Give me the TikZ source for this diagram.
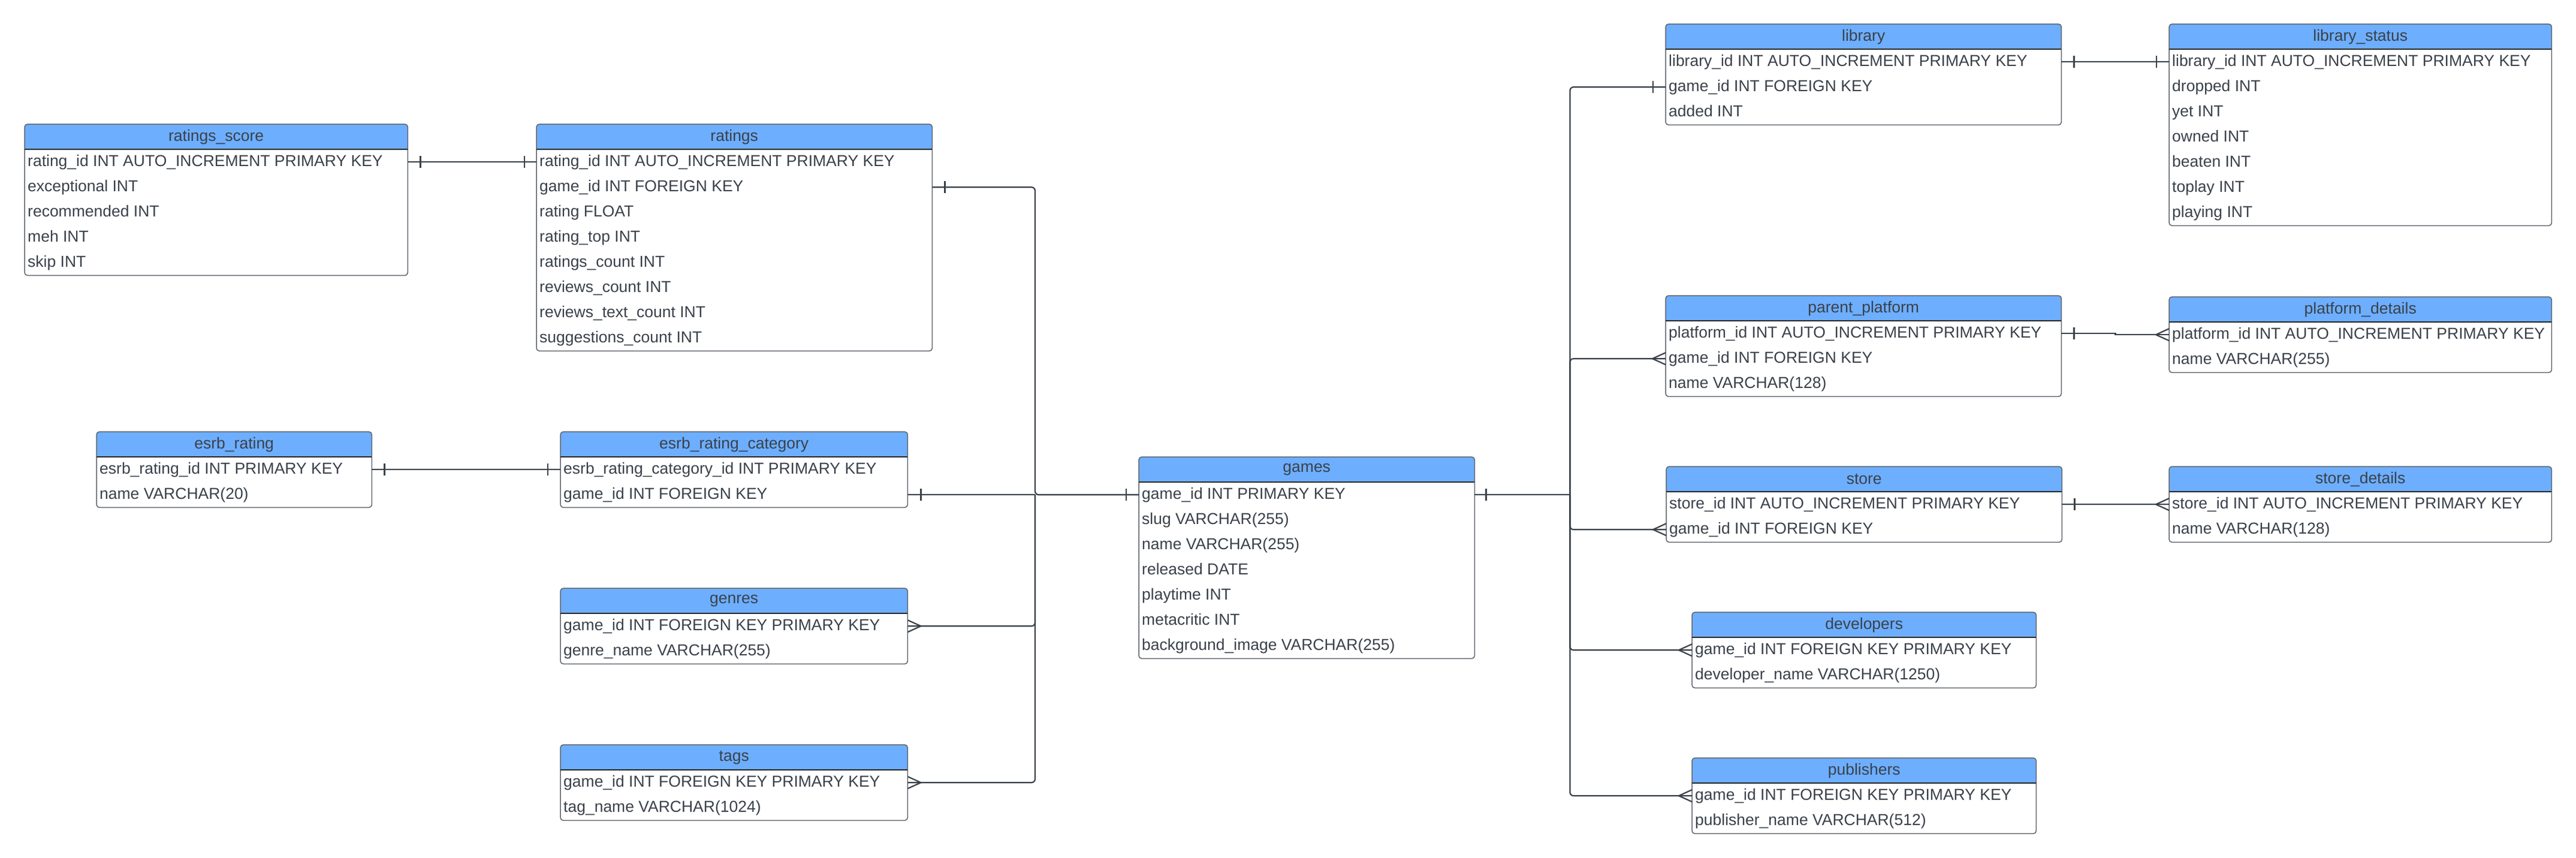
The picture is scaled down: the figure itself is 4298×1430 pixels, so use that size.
\documentclass[tikz,border=0pt]{standalone}
\usepackage{fontspec}
\setmainfont{Liberation Sans}
\usepackage{xcolor}
\usepackage{tikz}

\definecolor{headblue}{RGB}{109,174,255}
\definecolor{inkgray}{RGB}{58,65,74}
\definecolor{edgegray}{RGB}{95,100,108}

\pgfdeclarelayer{background}
\pgfsetlayers{background,main}

\newcommand{\dbtable}[6]{%
  \node[enthead, minimum width=#5pt] (#1) at (#3,#4) {#2};
  \foreach \field [count=\i] in {#6} {
    \node[entrow, minimum width=#5pt] (#1-\i) at (#3,{#4+42*\i}) {\makebox[\dimexpr#5pt-10pt\relax][l]{\field}};
    \xdef\nrows{\i}
  }
  \begin{pgfonlayer}{background}
    \fill[headblue, rounded corners=5pt] (#1.north west) rectangle (#1.south east);
    \fill[headblue] ([yshift=12pt]#1.south west) rectangle (#1.south east);
  \end{pgfonlayer}
  \draw[entedge] (#1.north west) rectangle (#1-\nrows.south east);
  \draw[headrule] (#1.south west) -- (#1.south east);
}
\newcommand{\onemark}[2]{\draw[conn] ([xshift=#2pt,yshift=-10pt]#1) -- ([xshift=#2pt,yshift=10pt]#1);}
\newcommand{\manymark}[2]{\draw[conn] ([yshift=-10pt]#1) -- ([xshift=#2pt]#1) -- ([yshift=10pt]#1);}

\begin{document}
\begin{tikzpicture}[x=1pt,y=-1pt,
  enthead/.style={anchor=north west,minimum height=42pt,inner sep=0pt,text=inkgray,font=\fontsize{26.5}{31}\selectfont},
  entrow/.style={anchor=north west,minimum height=42pt,inner xsep=5pt,inner ysep=0pt,text height=19pt,text depth=5pt,text=inkgray,font=\fontsize{26.5}{31}\selectfont},
  entedge/.style={draw=edgegray,line width=1.5pt,rounded corners=5pt},
  headrule/.style={draw=black!85,line width=2pt},
  conn/.style={draw=inkgray,line width=2.2pt}]
\begin{pgfonlayer}{background}
\fill[white] (0,0) rectangle (4298,1430);
\end{pgfonlayer}
\useasboundingbox (0,0) rectangle (4298,1430);

\dbtable{ratingsscore}{ratings\_score}{41}{207}{639}{rating\_id INT AUTO\_INCREMENT PRIMARY KEY, exceptional INT, recommended INT, meh INT, skip INT}
\dbtable{ratings}{ratings}{895}{207}{660}{rating\_id INT AUTO\_INCREMENT PRIMARY KEY, game\_id INT FOREIGN KEY, rating FLOAT, rating\_top INT, ratings\_count INT, reviews\_count INT, reviews\_text\_count INT, suggestions\_count INT}
\dbtable{esrb}{esrb\_rating}{161}{720}{459}{esrb\_rating\_id INT PRIMARY KEY, name VARCHAR(20)}
\dbtable{esrbcat}{esrb\_rating\_category}{935}{720}{579}{esrb\_rating\_category\_id INT PRIMARY KEY, game\_id INT FOREIGN KEY}
\dbtable{genres}{genres}{935}{981}{579}{game\_id INT FOREIGN KEY PRIMARY KEY, genre\_name VARCHAR(255)}
\dbtable{tags}{tags}{935}{1242}{579}{game\_id INT FOREIGN KEY PRIMARY KEY, tag\_name VARCHAR(1024)}
\dbtable{games}{games}{1900}{762}{560}{game\_id INT PRIMARY KEY, slug VARCHAR(255), name VARCHAR(255), released DATE, playtime INT, metacritic INT, background\_image VARCHAR(255)}
\dbtable{library}{library}{2779}{40}{660}{library\_id INT AUTO\_INCREMENT PRIMARY KEY, game\_id INT FOREIGN KEY, added INT}
\dbtable{libstatus}{library\_status}{3619}{40}{638}{library\_id INT AUTO\_INCREMENT PRIMARY KEY, dropped INT, yet INT, owned INT, beaten INT, toplay INT, playing INT}
\dbtable{pplatform}{parent\_platform}{2779}{493}{660}{platform\_id INT AUTO\_INCREMENT PRIMARY KEY, game\_id INT FOREIGN KEY, name VARCHAR(128)}
\dbtable{pdetails}{platform\_details}{3619}{495}{638}{platform\_id INT AUTO\_INCREMENT PRIMARY KEY, name VARCHAR(255)}
\dbtable{store}{store}{2780}{778}{660}{store\_id INT AUTO\_INCREMENT PRIMARY KEY, game\_id INT FOREIGN KEY}
\dbtable{sdetails}{store\_details}{3619}{778}{638}{store\_id INT AUTO\_INCREMENT PRIMARY KEY, name VARCHAR(128)}
\dbtable{developers}{developers}{2823}{1021}{574}{game\_id INT FOREIGN KEY PRIMARY KEY, developer\_name VARCHAR(1250)}
\dbtable{publishers}{publishers}{2823}{1264}{574}{game\_id INT FOREIGN KEY PRIMARY KEY, publisher\_name VARCHAR(512)}

\coordinate (hubL) at ([xshift=-173pt]games-1.west);
\coordinate (hubR) at ([xshift=159pt]games-1.east);

\draw[conn] (ratingsscore-1.east) -- (ratings-1.west);
\draw[conn] (esrb-1.east) -- (esrbcat-1.west);
\draw[conn,rounded corners=6pt] (ratings-2.east) -| (hubL) -- (games-1.west);
\draw[conn] (esrbcat-2.east) -- (hubL);
\draw[conn,rounded corners=6pt] (genres-1.east) -| (hubL);
\draw[conn,rounded corners=6pt] (tags-1.east) -| (hubL);
\draw[conn] (games-1.east) -- (hubR);
\draw[conn,rounded corners=6pt] (hubR) |- (library-2.west);
\draw[conn,rounded corners=6pt] (hubR) |- (pplatform-2.west);
\draw[conn,rounded corners=6pt] (hubR) |- (store-2.west);
\draw[conn,rounded corners=6pt] (hubR) |- (developers-1.west);
\draw[conn,rounded corners=6pt] (hubR) |- (publishers-1.west);
\draw[conn] (library-1.east) -- (libstatus-1.west);
\draw[conn] (pplatform-1.east) -- +(90,0) |- (pdetails-1.west);
\draw[conn] (store-1.east) -- (sdetails-1.west);

\onemark{ratingsscore-1.east}{21} \onemark{ratings-1.west}{-20}
\onemark{esrb-1.east}{21} \onemark{esrbcat-1.west}{-21}
\onemark{ratings-2.east}{21} \onemark{esrbcat-2.east}{22}
\manymark{genres-1.east}{22} \manymark{tags-1.east}{22}
\onemark{games-1.west}{-21} \onemark{games-1.east}{19}
\onemark{library-2.west}{-21}
\manymark{pplatform-2.west}{-22} \manymark{store-2.west}{-22}
\manymark{developers-1.west}{-22} \manymark{publishers-1.west}{-22}
\onemark{library-1.east}{21} \onemark{libstatus-1.west}{-21}
\onemark{pplatform-1.east}{21} \manymark{pdetails-1.west}{-22}
\onemark{store-1.east}{21} \manymark{sdetails-1.west}{-22}
\end{tikzpicture}
\end{document}
